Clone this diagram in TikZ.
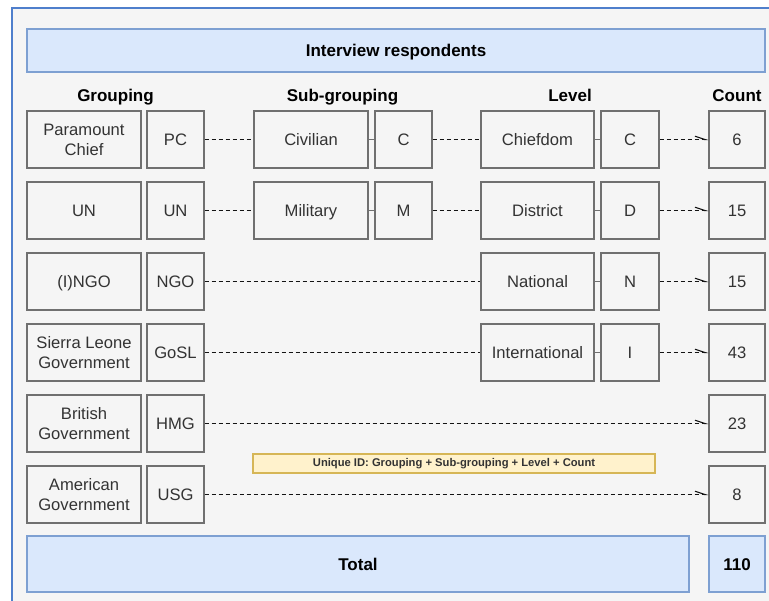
\documentclass[tikz,border=0pt]{standalone}
\usepackage{fontspec}
\setmainfont{Liberation Sans}
\usetikzlibrary{arrows.meta}
\definecolor{bgc}{HTML}{F5F5F5}
\definecolor{framec}{HTML}{4F7FCC}
\definecolor{bluef}{HTML}{DAE8FC}
\definecolor{blued}{HTML}{7EA0D2}
\definecolor{cellb}{HTML}{707070}
\definecolor{txt}{HTML}{333333}
\definecolor{yelf}{HTML}{FFF2CC}
\definecolor{yeld}{HTML}{D6B656}
\newcommand\ms{\rule[-4pt]{0pt}{19.8pt}}
\newcommand\hs{\rule[-4pt]{0pt}{20.2pt}}
\newcommand\tl[2]{\raisebox{10pt}[0pt][0pt]{\begin{tabular}[t]{@{}c@{}}#1\\#2\end{tabular}}}
\tikzset{
  cell/.style={draw=cellb, line width=1.1pt, fill=bgc, text=txt,
    inner sep=0pt, minimum height=57pt,
    font=\fontsize{16.6}{20}\selectfont, execute at begin node=\ms},
  wide/.style={cell, minimum width=114pt},
  narrow/.style={cell, minimum width=57pt},
  bluebox/.style={draw=blued, line width=1.1pt, fill=bluef, inner sep=0pt,
    font=\bfseries\fontsize{17}{20}\selectfont, execute at begin node=\hs},
  hdr/.style={font=\bfseries\fontsize{17}{20}\selectfont, inner sep=0pt, execute at begin node=\hs},
  dline/.style={draw=black!92, line width=1.2pt, dash pattern=on 4pt off 3pt},
  darrow/.style={dline, -{Straight Barb[harpoon, length=10pt, width=6.5pt, line width=1.1pt]}},
  sline/.style={draw=cellb, line width=1pt}
}
\begin{document}
\begin{tikzpicture}[x=1pt,y=-1pt]
\useasboundingbox (0,0) rectangle (769,601);
\clip (0,0) rectangle (769,601);
\fill[white] (0,0) rectangle (769,601);
\draw[framec, line width=1.6pt, fill=bgc] (12,8) rectangle (800,640);

\node[bluebox, minimum width=738pt, minimum height=43pt] (title) at (396,50.5) {Interview respondents};

\node[hdr] (hg) at (115.5,95.5) {Grouping};
\node[hdr] (hs) at (342.5,95.5) {Sub-grouping};
\node[hdr] (hl) at (570,95.5) {Level};
\node[hdr] (hc) at (737,95.5) {Count};

% row 1
\node[wide] (g1a) at (84,139.5) {\tl{Paramount}{Chief}};
\node[narrow] (g1b) at (175.5,139.5) {PC};
\node[wide] (s1a) at (311,139.5) {Civilian};
\node[narrow] (s1b) at (403.5,139.5) {C};
\node[wide, minimum width=113pt] (l1a) at (537.5,139.5) {Chiefdom};
\node[narrow, minimum width=58pt] (l1b) at (630,139.5) {C};
\node[narrow, minimum width=56pt] (n1) at (737,139.5) {6};
% row 2
\node[wide] (g2a) at (84,210.5) {UN};
\node[narrow] (g2b) at (175.5,210.5) {UN};
\node[wide] (s2a) at (311,210.5) {Military};
\node[narrow] (s2b) at (403.5,210.5) {M};
\node[wide, minimum width=113pt] (l2a) at (537.5,210.5) {District};
\node[narrow, minimum width=58pt] (l2b) at (630,210.5) {D};
\node[narrow, minimum width=56pt] (n2) at (737,210.5) {15};
% row 3
\node[wide] (g3a) at (84,281.5) {(I)NGO};
\node[narrow] (g3b) at (175.5,281.5) {NGO};
\node[wide, minimum width=113pt] (l3a) at (537.5,281.5) {National};
\node[narrow, minimum width=58pt] (l3b) at (630,281.5) {N};
\node[narrow, minimum width=56pt] (n3) at (737,281.5) {15};
% row 4
\node[wide] (g4a) at (84,352.5) {\tl{Sierra Leone}{Government}};
\node[narrow] (g4b) at (175.5,352.5) {GoSL};
\node[wide, minimum width=113pt] (l4a) at (537.5,352.5) {International};
\node[narrow, minimum width=58pt] (l4b) at (630,352.5) {I};
\node[narrow, minimum width=56pt] (n4) at (737,352.5) {43};
% row 5
\node[wide] (g5a) at (84,423.5) {\tl{British}{Government}};
\node[narrow] (g5b) at (175.5,423.5) {HMG};
\node[narrow, minimum width=56pt] (n5) at (737,423.5) {23};
% row 6
\node[wide] (g6a) at (84,494.5) {\tl{American}{Government}};
\node[narrow] (g6b) at (175.5,494.5) {USG};
\node[narrow, minimum width=56pt] (n6) at (737,494.5) {8};

\node[draw=yeld, line width=1.1pt, fill=yelf, minimum width=402pt, minimum height=19pt, inner sep=0pt,
  font=\bfseries\fontsize{11.2}{12}\selectfont, text=txt] (uid) at (454,463.5)
  {\rule[-2.6pt]{0pt}{10.6pt}Unique ID: Grouping + Sub-grouping + Level + Count};

\node[bluebox, minimum width=662pt, minimum height=56pt] (total) at (358,564) {Total};
\node[bluebox, minimum width=56pt, minimum height=56pt] (tnum) at (737,564) {110};

% connectors
\draw[dline] (g1b) -- (s1a);
\draw[sline] (s1a) -- (s1b);
\draw[dline] (s1b) -- (l1a);
\draw[sline] (l1a) -- (l1b);
\draw[darrow] (l1b) -- (n1);

\draw[dline] (g2b) -- (s2a);
\draw[sline] (s2a) -- (s2b);
\draw[dline] (s2b) -- (l2a);
\draw[sline] (l2a) -- (l2b);
\draw[darrow] (l2b) -- (n2);

\draw[dline] (g3b) -- (l3a);
\draw[sline] (l3a) -- (l3b);
\draw[darrow] (l3b) -- (n3);

\draw[dline] (g4b) -- (l4a);
\draw[sline] (l4a) -- (l4b);
\draw[darrow] (l4b) -- (n4);

\draw[darrow] (g5b) -- (n5);
\draw[darrow] (g6b) -- (n6);
\end{tikzpicture}
\end{document}
